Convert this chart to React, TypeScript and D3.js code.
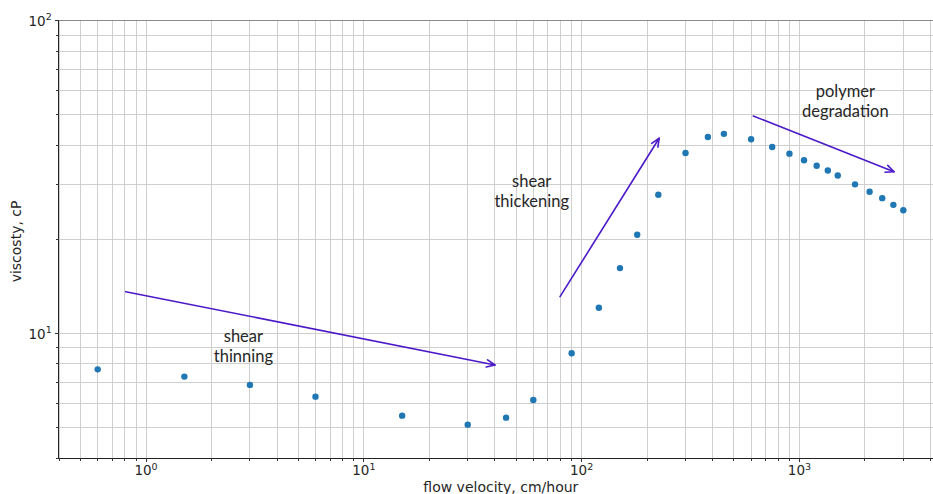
import React from 'react';
import * as d3 from 'd3';

// flow velocity (cm/hour) and viscosity (cP)
const velocity = [0.6, 1.5, 3, 6, 15, 30, 45, 60, 90, 120, 150, 180, 225, 300, 380, 450, 600, 750, 900, 1050, 1200, 1350, 1500, 1800, 2100, 2400, 2700, 3000];
const viscosity = [7.69, 7.29, 6.86, 6.29, 5.47, 5.12, 5.39, 6.14, 8.66, 12.1, 16.2, 20.7, 27.8, 37.8, 42.5, 43.5, 41.8, 39.5, 37.6, 35.8, 34.4, 33.2, 32.0, 30.0, 28.4, 27.1, 25.8, 24.8];

const xMajorTicks = [1, 10, 100, 1000];
const xTickExponents = ['0', '1', '2', '3'];
const yMajorTicks = [10, 100];
const yTickExponents = ['1', '2'];

const xLabel = 'flow velocity, cm/hour';
const yLabel = 'viscosty, cP';

// annotations (data coordinates)
const noteLines = [['shear', 'thinning'], ['shear', 'thickening'], ['polymer', 'degradation']];
const noteX = [2.8, 59, 1625];
const noteY = [9.43, 29.5, 57.2];
const arrowStartX = [0.807, 79.6, 614];
const arrowStartY = [13.62, 13.13, 49.6];
const arrowEndX = [40, 227, 2718];
const arrowEndY = [7.94, 42.1, 32.9];

const W = 933;
const H = 494;
const left = 58.7;
const right = 943;
const top = 20.7;
const bottom = 458.2;

function minorTicks(lo: number, hi: number): number[] {
  const out: number[] = [];
  for (let e = -1; e <= 4; e++) {
    for (let m = 1; m <= 9; m++) {
      const v = m * Math.pow(10, e);
      if (v >= lo * 0.999 && v <= hi * 1.001) out.push(v);
    }
  }
  return out;
}

export default function App() {
  const x = d3.scaleLog().domain([0.3973, 4563]).range([left, right]);
  const y = d3.scaleLog().domain([4.0, 100]).range([bottom, top]);

  const xAll = minorTicks(0.3973, 4563);
  const yAll = minorTicks(4.0, 100);
  const isMajor = (v: number) => Math.abs(Math.log10(v) - Math.round(Math.log10(v))) < 1e-9;

  const gridColor = '#cfcfcf';
  const arrowColor = '#4c19c9';
  const tickFont = 'DejaVu Sans, sans-serif';
  const noteFont = 'Lato, sans-serif';

  const arrows = arrowStartX.map((_, i) => {
    const x1 = x(arrowStartX[i]);
    const y1 = y(arrowStartY[i]);
    const x2 = x(arrowEndX[i]);
    const y2 = y(arrowEndY[i]);
    const ang = Math.atan2(y2 - y1, x2 - x1);
    const len = 9;
    const spread = 0.42;
    const hx1 = x2 - len * Math.cos(ang - spread);
    const hy1 = y2 - len * Math.sin(ang - spread);
    const hx2 = x2 - len * Math.cos(ang + spread);
    const hy2 = y2 - len * Math.sin(ang + spread);
    return { x1, y1, x2, y2, hx1, hy1, hx2, hy2 };
  });

  return (
    <svg width={W} height={H} style={{ position: 'absolute', left: 0, top: 0, display: 'block', background: '#fff' }}>
      <defs>
        <clipPath id="plotclip">
          <rect x={left} y={top} width={right - left} height={bottom - top} />
        </clipPath>
      </defs>
      <g clipPath="url(#plotclip)" shapeRendering="crispEdges">
        {xAll.map((v, i) => (
          <line key={'gx' + i} x1={x(v)} x2={x(v)} y1={top} y2={bottom} stroke={gridColor} strokeWidth={1} />
        ))}
        {yAll.map((v, i) => (
          <line key={'gy' + i} x1={left} x2={right} y1={y(v)} y2={y(v)} stroke={gridColor} strokeWidth={1} />
        ))}
      </g>
      {/* spines */}
      <g shapeRendering="crispEdges">
        <line x1={left} x2={right} y1={top} y2={top} stroke="#8a8a8a" strokeWidth={1} />
        <line x1={left} x2={left} y1={top} y2={bottom} stroke="#222" strokeWidth={1} />
        <line x1={left} x2={right} y1={bottom} y2={bottom} stroke="#222" strokeWidth={1} />
        {xAll.map((v, i) => (
          <line key={'tx' + i} x1={x(v)} x2={x(v)} y1={bottom} y2={bottom + (isMajor(v) ? 4 : 2.5)} stroke="#333" strokeWidth={1} />
        ))}
        {yAll.map((v, i) => (
          <line key={'ty' + i} x1={left - (isMajor(v) ? 4 : 2.5)} x2={left} y1={y(v)} y2={y(v)} stroke="#333" strokeWidth={1} />
        ))}
      </g>
      {/* points */}
      <g clipPath="url(#plotclip)">
        {velocity.map((v, i) => (
          <circle key={'p' + i} cx={x(v)} cy={y(viscosity[i])} r={3.2} fill="#1f77b4" />
        ))}
      </g>
      {/* tick labels */}
      {xMajorTicks.map((v, i) => (
        <text key={'lx' + i} x={x(v)} y={bottom + 17} textAnchor="middle" fontFamily={tickFont} fontSize={13.5} fill="#262626">
          10<tspan fontSize={9.5} dy={-5.5}>{xTickExponents[i]}</tspan>
        </text>
      ))}
      {yMajorTicks.map((v, i) => (
        <text key={'ly' + i} x={left - 7} y={y(v) + 5} textAnchor="end" fontFamily={tickFont} fontSize={13.5} fill="#262626">
          10<tspan fontSize={9.5} dy={-5.5}>{yTickExponents[i]}</tspan>
        </text>
      ))}
      {/* axis labels */}
      <text x={(left + right) / 2} y={492} textAnchor="middle" fontFamily={tickFont} fontSize={14} fill="#262626">
        {xLabel}
      </text>
      <text transform={`translate(21, ${(top + bottom) / 2 + 2}) rotate(-90)`} textAnchor="middle" fontFamily={tickFont} fontSize={14} fill="#262626">
        {yLabel}
      </text>
      {/* arrows */}
      {arrows.map((a, i) => (
        <g key={'a' + i} stroke={arrowColor} strokeWidth={1.6} fill="none" strokeLinecap="round" strokeLinejoin="round">
          <line x1={a.x1} y1={a.y1} x2={a.x2} y2={a.y2} />
          <polyline points={`${a.hx1},${a.hy1} ${a.x2},${a.y2} ${a.hx2},${a.hy2}`} />
        </g>
      ))}
      {/* annotation text */}
      {noteLines.map((lines, i) => (
        <text key={'n' + i} x={x(noteX[i])} y={y(noteY[i])} textAnchor="middle" fontFamily={noteFont} fontSize={16.5} fill="#262626">
          {lines.map((t, j) => (
            <tspan key={j} x={x(noteX[i])} dy={j === 0 ? 0 : 20.5}>{t}</tspan>
          ))}
        </text>
      ))}
    </svg>
  );
}
